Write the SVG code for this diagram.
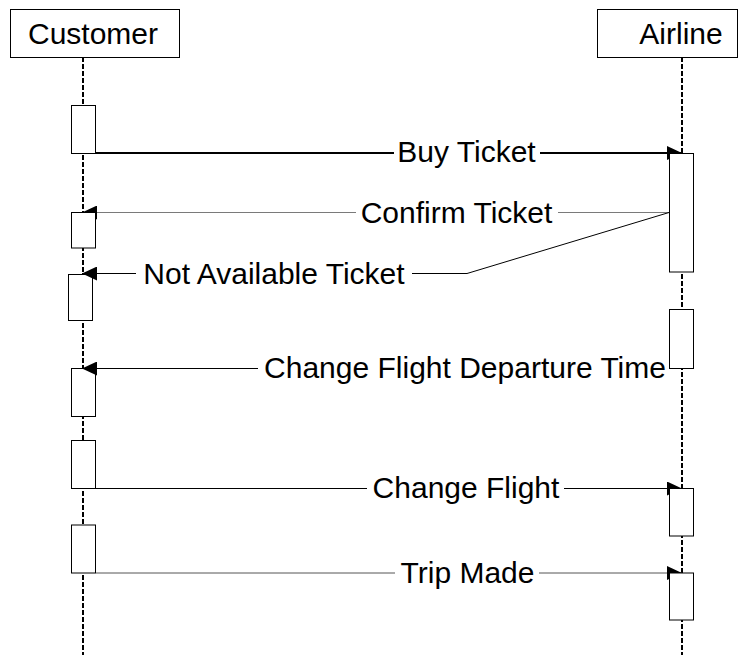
<svg xmlns="http://www.w3.org/2000/svg" width="753" height="655" viewBox="0 0 753 655">
<style>
.hdr{fill:#fff;stroke:#000;stroke-width:1}
.life{stroke:#000;stroke-width:2;stroke-dasharray:5,2;fill:none}
.act{fill:#fff;stroke:#000;stroke-width:1}
.t{font-family:"Liberation Sans",Arial,sans-serif;font-size:30px;fill:#000;text-anchor:middle}
.msg{fill:none;stroke:#000;stroke-width:1}
.thick{stroke-width:2}
.gray{stroke:#7a7a7a}
.dgray{stroke:#555}
.bg{fill:#fff}
</style>
<defs>
<marker id="ah" markerUnits="userSpaceOnUse" markerWidth="15" markerHeight="14" refX="15" refY="7" orient="auto">
<path d="M0,0 L15,7 L0,14 z" fill="#000"/>
</marker>
</defs>
<rect width="753" height="655" fill="#fff"/>
<g id="customer">
<line class="life" x1="83" y1="57" x2="83" y2="655"/>
<rect class="hdr" x="10.5" y="9.5" width="169" height="48"/>
<text class="t" x="93" y="43.5">Customer</text>
</g>
<g id="airline">
<line class="life" x1="682" y1="57" x2="682" y2="655"/>
<rect class="hdr" x="597.5" y="9.5" width="140" height="48"/>
<text class="t" x="681" y="43.5">Airline</text>
</g>
<g id="act-c3"><rect class="act" x="68.5" y="274.5" width="24" height="46"/></g>
<g id="act-c4"><rect class="act" x="71.5" y="368.5" width="24" height="48"/></g>
<g id="connectors">
<path class="msg thick" d="M96,153 H682" marker-end="url(#ah)"/>
<rect class="bg" x="394" y="138" width="146" height="30"/>
<text class="t" x="466.5" y="162">Buy Ticket</text>
<path class="msg gray" d="M669,212.5 H82" marker-end="url(#ah)"/>
<rect class="bg" x="356" y="197" width="202" height="30"/>
<text class="t" x="456.5" y="222.5">Confirm Ticket</text>
<path class="msg" d="M669,212.5 L467,273.5 H82" marker-end="url(#ah)"/>
<rect class="bg" x="136" y="258" width="276" height="30"/>
<text class="t" x="274" y="283.5">Not Available Ticket</text>
<path class="msg" d="M682,368.5 H82" marker-end="url(#ah)"/>
<rect class="bg" x="258" y="352" width="413" height="30"/>
<text class="t" x="465" y="378">Change Flight Departure Time</text>
<path class="msg" d="M96,488.5 H682" marker-end="url(#ah)"/>
<rect class="bg" x="367" y="472" width="197" height="30"/>
<text class="t" x="466" y="498">Change Flight</text>
<path class="msg dgray" d="M96,573 H682" marker-end="url(#ah)"/>
<rect class="bg" x="395" y="557" width="144" height="30"/>
<text class="t" x="467.5" y="583">Trip Made</text>
</g>
<g id="act-c1"><rect class="act" x="71.5" y="105.5" width="24" height="48"/></g>
<g id="act-c2"><rect class="act" x="71.5" y="212.5" width="24" height="35.5"/></g>
<g id="act-c5"><rect class="act" x="71.5" y="440.5" width="24" height="48"/></g>
<g id="act-c6"><rect class="act" x="71.5" y="525" width="24" height="48"/></g>
<g id="act-a1"><rect class="act" x="669.5" y="153.5" width="24" height="118.5"/></g>
<g id="act-a2"><rect class="act" x="669.5" y="309.5" width="24" height="59"/></g>
<g id="act-a3"><rect class="act" x="669.5" y="488.5" width="24" height="47.5"/></g>
<g id="act-a4"><rect class="act" x="669.5" y="573" width="24" height="47"/></g>
</svg>
